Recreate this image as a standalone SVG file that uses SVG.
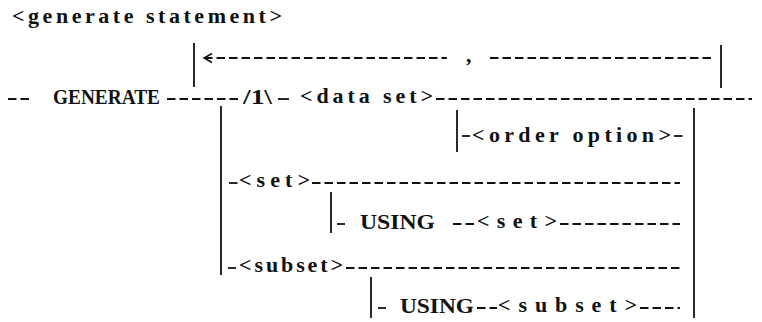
<svg xmlns="http://www.w3.org/2000/svg" width="762" height="322" viewBox="0 0 762 322">
  <style>
    .lbl { font-family: "Liberation Serif", "Times New Roman", serif; font-weight: 700; font-size: 22px; fill: #111; }
    .kw { font-family: "Liberation Serif", "Times New Roman", serif; font-weight: 700; font-size: 20px; fill: #111; }
    .dash { stroke: #111; stroke-width: 1.8; stroke-dasharray: 8.5 4; fill: none; }
    .bar { stroke: #111; stroke-width: 1.8; fill: none; }
  </style>
  <defs>
    <marker id="chev" viewBox="0 0 10 12" refX="1" refY="6" markerWidth="10" markerHeight="12" markerUnits="userSpaceOnUse" orient="auto">
      <polyline points="9,1.5 1,6 9,10.5" fill="none" stroke="#111" stroke-width="1.6"/>
    </marker>
  </defs>

  <rect width="762" height="322" fill="#fff"/>

  <!-- title -->
  <g id="title">
    <text class="lbl" x="12" y="23" textLength="270" lengthAdjust="spacing">&lt;generate statement&gt;</text>
  </g>

  <!-- connectors: dashed rails and vertical branch bars -->
  <g id="connectors">
    <!-- repeat loop -->
    <line class="bar" x1="194" y1="43" x2="194" y2="87"/>
    <line class="dash" x1="204" y1="58" x2="447" y2="58" marker-start="url(#chev)"/>
    <line class="dash" x1="490" y1="58" x2="713" y2="58"/>
    <line class="bar" x1="721" y1="45" x2="721" y2="88"/>
    <!-- main rail -->
    <line class="dash" x1="8" y1="99" x2="29" y2="99"/>
    <line class="dash" x1="167" y1="99" x2="242" y2="99"/>
    <line class="bar" x1="278" y1="99" x2="289" y2="99"/>
    <line class="dash" x1="436" y1="99" x2="752" y2="99"/>
    <!-- alternatives bar -->
    <line class="bar" x1="221" y1="106" x2="221" y2="275"/>
    <line class="bar" x1="694" y1="108" x2="694" y2="318"/>
    <!-- order option -->
    <line class="bar" x1="457" y1="110" x2="457" y2="152"/>
    <line class="dash" x1="462" y1="136" x2="470" y2="136"/>
    <line class="dash" x1="674" y1="136" x2="686" y2="136"/>
    <!-- set -->
    <line class="dash" x1="229" y1="183" x2="238" y2="183"/>
    <line class="dash" x1="312" y1="183" x2="680" y2="183"/>
    <line class="bar" x1="331" y1="192" x2="331" y2="233"/>
    <line class="dash" x1="337" y1="224" x2="345" y2="224"/>
    <line class="dash" x1="453" y1="224" x2="474" y2="224"/>
    <line class="dash" x1="560" y1="224" x2="680" y2="224"/>
    <!-- subset -->
    <line class="dash" x1="228" y1="268" x2="236" y2="268"/>
    <line class="dash" x1="346" y1="268" x2="680" y2="268"/>
    <line class="bar" x1="371" y1="277" x2="371" y2="318"/>
    <line class="dash" x1="378" y1="308" x2="386" y2="308"/>
    <line class="dash" x1="477" y1="308" x2="497" y2="308"/>
    <line class="dash" x1="640" y1="308" x2="680" y2="308"/>
  </g>

  <g id="comma">
    <text class="lbl" x="466" y="62">,</text>
  </g>
  <g id="generate">
    <text class="kw" x="53" y="104" textLength="107" lengthAdjust="spacingAndGlyphs">GENERATE</text>
  </g>
  <g id="repeat-count">
    <text class="kw" x="243" y="104" textLength="29" lengthAdjust="spacingAndGlyphs">/1\</text>
  </g>
  <g id="data-set">
    <text class="lbl" x="300" y="103" textLength="133" lengthAdjust="spacing">&lt;data set&gt;</text>
  </g>
  <g id="order-option">
    <text class="lbl" x="472" y="142" textLength="199" lengthAdjust="spacing">&lt;order option&gt;</text>
  </g>
  <g id="set">
    <text class="lbl" x="239" y="187" textLength="71" lengthAdjust="spacing">&lt;set&gt;</text>
  </g>
  <g id="using-set">
    <text class="kw" x="360" y="229" textLength="75" lengthAdjust="spacingAndGlyphs">USING</text>
    <text class="lbl" x="477" y="228" textLength="80" lengthAdjust="spacing">&lt;set&gt;</text>
  </g>
  <g id="subset">
    <text class="lbl" x="239" y="272" textLength="104" lengthAdjust="spacing">&lt;subset&gt;</text>
  </g>
  <g id="using-subset">
    <text class="kw" x="400" y="313" textLength="74" lengthAdjust="spacingAndGlyphs">USING</text>
    <text class="lbl" x="498" y="312" textLength="139" lengthAdjust="spacing">&lt;subset&gt;</text>
  </g>
</svg>
